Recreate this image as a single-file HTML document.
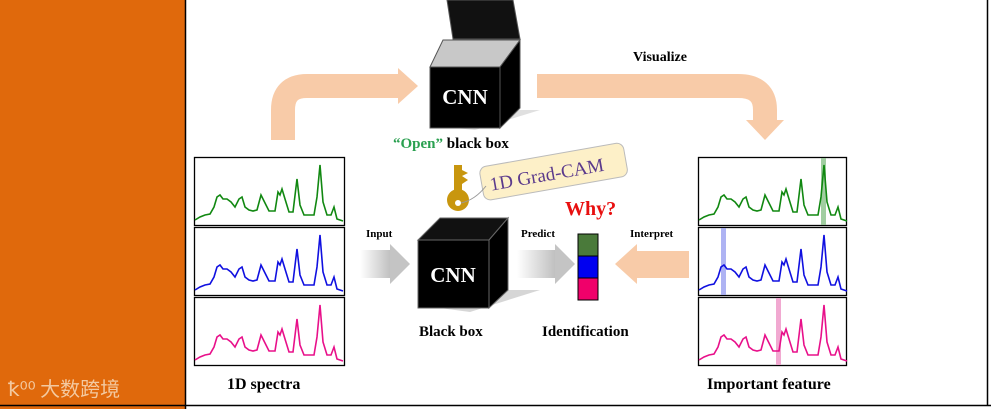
<!DOCTYPE html>
<html><head><meta charset="utf-8"><style>
body{margin:0;width:991px;height:409px;overflow:hidden;background:#fff;font-family:"Liberation Serif",serif}
</style></head><body>
<svg width="991" height="409" xmlns="http://www.w3.org/2000/svg" font-family="Liberation Serif, serif" font-weight="bold">
<defs>
<linearGradient id="g1" x1="0" x2="1"><stop offset="0" stop-color="#fff"/><stop offset="1" stop-color="#bdbdbd"/></linearGradient>
<path id="sp" d="M0,63 L5,60 L10,58 L15,57 L19,50 L22,40 L25,38 L28,42 L32,42 L36,45 L40,50 L44,42 L47,40 L50,50 L54,53 L58,54 L62,53 L66,38 L70,46 L74,54 L80,54 L83,35 L85,38 L87,32 L90,42 L94,55 L98,55 L102,22 L105,48 L109,58 L119,58 L122,40 L125,8 L128,45 L132,58 L136,58 L139,50 L142,62 L148,64" fill="none" stroke-width="1.6"/>
</defs>
<rect x="0" y="0" width="185" height="409" fill="#e0690c"/>
<line x1="185.5" y1="0" x2="185.5" y2="409" stroke="#000" stroke-width="1.5"/>
<line x1="987.5" y1="0" x2="987.5" y2="406" stroke="#000" stroke-width="1.5"/>
<line x1="0" y1="405.5" x2="991" y2="405.5" stroke="#000" stroke-width="1.5"/>
<text x="8" y="396" font-family="Noto Sans CJK SC, sans-serif" font-weight="normal" font-size="20" fill="#f3c9a0">ꝁ⁰⁰ 大数跨境</text>

<path d="M283,140 L283,110 Q283,86 307,86 L400,86" fill="none" stroke="#f8cba8" stroke-width="24"/>
<polygon points="398,68 418,86 398,104" fill="#f8cba8"/>
<path d="M537,86 L738,86 Q765,86 765,110 L765,122" fill="none" stroke="#f8cba8" stroke-width="24"/>
<polygon points="746,120 784,120 765,140" fill="#f8cba8"/>
<text x="633" y="61" font-size="14">Visualize</text>

<polygon points="447,0 513,0 520,39 453,39" fill="#111" stroke="#555" stroke-width="1"/>
<polygon points="455,128 520,110 540,110 475,130" fill="#ccc" opacity="0.6"/>
<polygon points="430,67 443,40 520,40 500,67" fill="#c8c8c8" stroke="#555"/>
<polygon points="500,67 520,40 520,108 500,128" fill="#000" stroke="#555"/>
<rect x="430" y="67" width="70" height="61" fill="#000" stroke="#555"/>
<text x="465" y="104" font-size="21" fill="#fff" text-anchor="middle">CNN</text>
<text x="393" y="148" font-size="15"><tspan fill="#2aa050">“Open”</tspan> black box</text>

<g transform="rotate(-10 540 175)">
<rect x="481" y="157" width="146" height="34" rx="7" fill="#fdf0c8" stroke="#bbb"/>
<text x="489" y="182" font-size="19" fill="#5b3a8c" font-weight="normal">1D Grad-CAM</text>
</g>
<rect x="454" y="165" width="8" height="30" fill="#c8960e"/>
<polygon points="462,170 468,173 462,176 468,180 462,184" fill="#c8960e"/>
<circle cx="458" cy="200" r="11" fill="#c8960e"/>
<circle cx="458" cy="203" r="3" fill="#fff"/>
<path d="M461,203 Q475,200 486,186" stroke="#999" fill="none"/>
<text x="565" y="215" font-size="20" fill="#e81010">Why?</text>

<polygon points="440,308 508,290 540,290 470,312" fill="#bbb" opacity="0.6"/>
<polygon points="418,240 440,218 508,218 489,240" fill="#111" stroke="#666"/>
<polygon points="489,240 508,218 508,290 489,308" fill="#000" stroke="#666"/>
<rect x="418" y="240" width="71" height="68" fill="#000" stroke="#666"/>
<text x="453" y="282" font-size="21" fill="#fff" text-anchor="middle">CNN</text>
<text x="419" y="336" font-size="15">Black box</text>

<rect x="360" y="250" width="32" height="28" fill="url(#g1)"/>
<polygon points="390,244 410,264 390,284" fill="#c4c4c4"/>
<text x="366" y="237" font-size="11">Input</text>
<rect x="517" y="250" width="40" height="28" fill="url(#g1)"/>
<polygon points="555,244 575,264 555,284" fill="#c4c4c4"/>
<text x="521" y="237" font-size="11">Predict</text>
<text x="630" y="237" font-size="11">Interpret</text>
<rect x="635" y="251" width="54" height="27" fill="#f8cba8"/>
<polygon points="637,244 615,264 637,284" fill="#f8cba8"/>

<rect x="578" y="234" width="20" height="22" fill="#4a7a3a" stroke="#000"/>
<rect x="578" y="256" width="20" height="22" fill="#0000f0" stroke="#000"/>
<rect x="578" y="278" width="20" height="22" fill="#f0006a" stroke="#000"/>
<text x="542" y="336" font-size="15">Identification</text>

<rect x="194.5" y="157.5" width="150" height="68" fill="#fff" stroke="#000" stroke-width="1.3"/>
<use href="#sp" transform="translate(195,157)" stroke="#118811"/>
<rect x="194.5" y="227.5" width="150" height="68" fill="#fff" stroke="#000" stroke-width="1.3"/>
<use href="#sp" transform="translate(195,227)" stroke="#1010e0"/>
<rect x="194.5" y="297.5" width="150" height="68" fill="#fff" stroke="#000" stroke-width="1.3"/>
<use href="#sp" transform="translate(195,297)" stroke="#e8108a"/>
<text x="227" y="389" font-size="16">1D spectra</text>

<rect x="698.5" y="157.5" width="148" height="68" fill="#fff" stroke="#000" stroke-width="1.3"/>
<rect x="821" y="158" width="5" height="67" fill="#8ac28a" opacity="0.8"/>
<use href="#sp" transform="translate(699,157)" stroke="#118811"/>
<rect x="698.5" y="227.5" width="148" height="68" fill="#fff" stroke="#000" stroke-width="1.3"/>
<rect x="721" y="228" width="5" height="67" fill="#9aa0f0" opacity="0.8"/>
<use href="#sp" transform="translate(699,227)" stroke="#1010e0"/>
<rect x="698.5" y="297.5" width="148" height="68" fill="#fff" stroke="#000" stroke-width="1.3"/>
<rect x="776" y="298" width="5" height="67" fill="#f0a0cc" opacity="0.9"/>
<use href="#sp" transform="translate(699,297)" stroke="#e8108a"/>
<text x="707" y="389" font-size="16">Important feature</text>
</svg>
</body></html>
